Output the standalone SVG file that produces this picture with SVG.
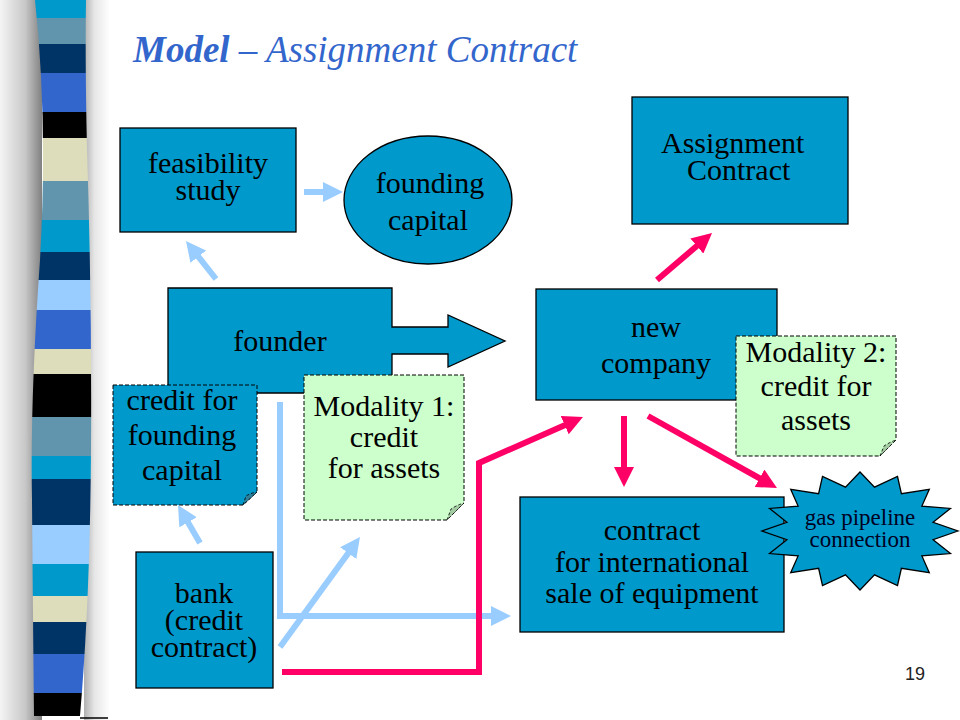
<svg xmlns="http://www.w3.org/2000/svg" width="960" height="720" viewBox="0 0 960 720">
<style>
.box{fill:#0099CC;stroke:#000;stroke-width:1.3}
.nb{fill:#0099CC;stroke:#000;stroke-width:1;stroke-dasharray:4 2}
.ng{fill:#CCFFCC;stroke:#000;stroke-width:1;stroke-dasharray:4 2}
.fb{fill:#2E7F99;stroke:#000;stroke-width:0.8;stroke-dasharray:3 2}
.fg{fill:#A3CCA3;stroke:#000;stroke-width:0.8;stroke-dasharray:3 2}
.t{font-family:"Liberation Serif","Times New Roman",serif;font-size:30px;text-anchor:middle;fill:#000}
.ts{font-family:"Liberation Serif","Times New Roman",serif;font-size:30px;fill:#000}
.blue{stroke:#99CCFF;stroke-width:6;fill:none;marker-end:url(#hb)}
.pink{stroke:#FF0066;stroke-width:6;fill:none;marker-end:url(#hp)}
</style>
<defs>
<marker id="hb" viewBox="0 0 20 20" markerWidth="20" markerHeight="20" markerUnits="userSpaceOnUse" refX="8" refY="10" orient="auto"><path d="M0,0 L20,10 L0,20 z" fill="#99CCFF"/></marker>
<marker id="hp" viewBox="0 0 20 20" markerWidth="20" markerHeight="20" markerUnits="userSpaceOnUse" refX="8" refY="10" orient="auto"><path d="M0,0 L20,10 L0,20 z" fill="#FF0066"/></marker>
<linearGradient id="shl" x1="0" y1="0" x2="1" y2="0"><stop offset="0" stop-color="#f4f4f4"/><stop offset="0.6" stop-color="#c8c8c8"/><stop offset="1" stop-color="#808080"/></linearGradient>
<linearGradient id="shr" x1="0" y1="0" x2="1" y2="0"><stop offset="0" stop-color="#b0b0b0"/><stop offset="0.4" stop-color="#e6e6e6"/><stop offset="1" stop-color="#ffffff"/></linearGradient>
<clipPath id="barclip"><path d="M35,0 Q48,120 40,260 Q30,400 32,500 Q33,620 34,716 L80,716 Q90,600 91,450 Q92,300 87,150 Q85,60 86,0 Z"/></clipPath>
</defs>
<rect width="960" height="720" fill="#fff"/>
<g id="sidebar">
<rect x="0" y="0" width="42" height="720" fill="url(#shl)"/>
<rect x="84" y="0" width="26" height="720" fill="url(#shr)"/>
<g clip-path="url(#barclip)">
<rect x="0" y="0" width="120" height="18" fill="#0099CC"/>
<rect x="0" y="18" width="120" height="26" fill="#6095AD"/>
<rect x="0" y="44" width="120" height="29" fill="#003366"/>
<rect x="0" y="73" width="120" height="39" fill="#3366CC"/>
<rect x="0" y="112" width="120" height="26" fill="#000000"/>
<rect x="0" y="138" width="120" height="43" fill="#DDDDBB"/>
<rect x="0" y="181" width="120" height="39" fill="#6095AD"/>
<rect x="0" y="220" width="120" height="32" fill="#0099CC"/>
<rect x="0" y="252" width="120" height="28" fill="#003366"/>
<rect x="0" y="280" width="120" height="30" fill="#99CCFF"/>
<rect x="0" y="310" width="120" height="39" fill="#3366CC"/>
<rect x="0" y="349" width="120" height="25" fill="#DDDDBB"/>
<rect x="0" y="374" width="120" height="43" fill="#000000"/>
<rect x="0" y="417" width="120" height="39" fill="#6095AD"/>
<rect x="0" y="456" width="120" height="23" fill="#0099CC"/>
<rect x="0" y="479" width="120" height="46" fill="#003366"/>
<rect x="0" y="525" width="120" height="39" fill="#99CCFF"/>
<rect x="0" y="564" width="120" height="32" fill="#0099CC"/>
<rect x="0" y="596" width="120" height="26" fill="#DDDDBB"/>
<rect x="0" y="622" width="120" height="32" fill="#003366"/>
<rect x="0" y="654" width="120" height="39" fill="#3366CC"/>
<rect x="0" y="693" width="120" height="27" fill="#000000"/>
</g>
<line x1="80" y1="718" x2="108" y2="718" stroke="#000" stroke-width="1.5"/>
</g>
<text id="title" x="133" y="62" font-family="'Liberation Serif','Times New Roman',serif" font-size="37" font-style="italic" fill="#3366CC"><tspan font-weight="bold">Model</tspan> – Assignment Contract</text>

<g id="feasibility">
<rect class="box" x="120" y="128" width="176" height="104"/>
<text class="t" x="208" y="173">feasibility</text>
<text class="t" x="208" y="200">study</text>
</g>
<g id="founding-capital">
<ellipse class="box" cx="428" cy="200" rx="84" ry="64"/>
<text class="t" x="430" y="193">founding</text>
<text class="t" x="428" y="230">capital</text>
</g>
<g id="founder">
<path class="box" d="M168,288 H392 V327 H448 V315 L505,341 L448,367 V354 H392 V393 H168 Z"/>
<text class="t" x="280" y="351">founder</text>
</g>
<g id="assignment-contract">
<rect class="box" x="632" y="97" width="216" height="127"/>
<text class="ts" x="661" y="153">Assignment</text>
<text class="ts" x="687" y="180">Contract</text>
</g>
<g id="new-company">
<rect class="box" x="536" y="289" width="241" height="111"/>
<text class="t" x="656" y="337">new</text>
<text class="t" x="656" y="373">company</text>
</g>
<g id="modality2">
<path class="ng" d="M736,336 H896 V440 L880,456 H736 Z"/>
<path class="fg" d="M880,456 L884,446 Q890,442 896,440 Z"/>
<text class="t" x="816" y="362">Modality 2:</text>
<text class="t" x="816" y="396">credit for</text>
<text class="t" x="816" y="430">assets</text>
</g>
<g id="credit-founding">
<path class="nb" d="M113,385 H257 V492 L243,505 H113 Z"/>
<path class="fb" d="M243,505 L246,496 Q251,493 257,492 Z"/>
<text class="t" x="182" y="410">credit for</text>
<text class="t" x="182" y="445">founding</text>
<text class="t" x="182" y="480">capital</text>
</g>
<g id="modality1">
<path class="ng" d="M304,375 H464 V503 L447,520 H304 Z"/>
<path class="fg" d="M447,520 L451,509 Q457,505 464,503 Z"/>
<text class="t" x="384" y="416">Modality 1:</text>
<text class="t" x="384" y="447">credit</text>
<text class="t" x="384" y="478">for assets</text>
</g>
<g id="bank">
<rect class="box" x="136" y="552" width="137" height="136"/>
<text class="t" x="204" y="603">bank</text>
<text class="t" x="204" y="630">(credit</text>
<text class="t" x="204" y="657">contract)</text>
</g>
<g id="sale-contract">
<rect class="box" x="520" y="497" width="264" height="135"/>
<text class="t" x="652" y="540">contract</text>
<text class="t" x="652" y="572">for international</text>
<text class="t" x="652" y="603">sale of equipment</text>
</g>
<g id="gas-pipeline">
<polygon class="box" points="958,531 933.1,539.7 950.5,553.6 921.9,555.9 929.3,572.7 901.4,568.3 897.5,585.5 874.5,574.9 860,590 845.5,574.9 822.5,585.5 818.6,568.3 790.7,572.7 798.1,555.9 769.5,553.6 786.9,539.7 762,531 786.9,522.3 769.5,508.4 798.1,506.1 790.7,489.3 818.6,493.7 822.5,476.5 845.5,487.1 860,472 874.5,487.1 897.5,476.5 901.4,493.7 929.3,489.3 921.9,506.1 950.5,508.4 933.1,522.3"/>
<text x="860" y="525" font-family="'Liberation Serif','Times New Roman',serif" font-size="23" text-anchor="middle" fill="#000022">gas pipeline</text>
<text x="860" y="547" font-family="'Liberation Serif','Times New Roman',serif" font-size="23" text-anchor="middle" fill="#000022">connection</text>
</g>
<g id="connectors">
<path class="blue" d="M216,279 L193.4,250.4"/>
<path class="blue" d="M304,192 L331,192"/>
<path class="blue" d="M200,543 L184,515.4"/>
<path class="blue" d="M280,402 V616 H499"/>
<path class="blue" d="M280,647 L352.9,546.7"/>
<path class="pink" d="M282,672 H479 V463 L572,421.9"/>
<path class="pink" d="M657,280 L702.9,240.8"/>
<path class="pink" d="M624,416 V475"/>
<path class="pink" d="M648,416 L766.5,482.2"/>
</g>
<text id="page-number" x="915" y="680" font-family="'Liberation Sans',Arial,sans-serif" font-size="18" text-anchor="middle" fill="#222">19</text>
</svg>
